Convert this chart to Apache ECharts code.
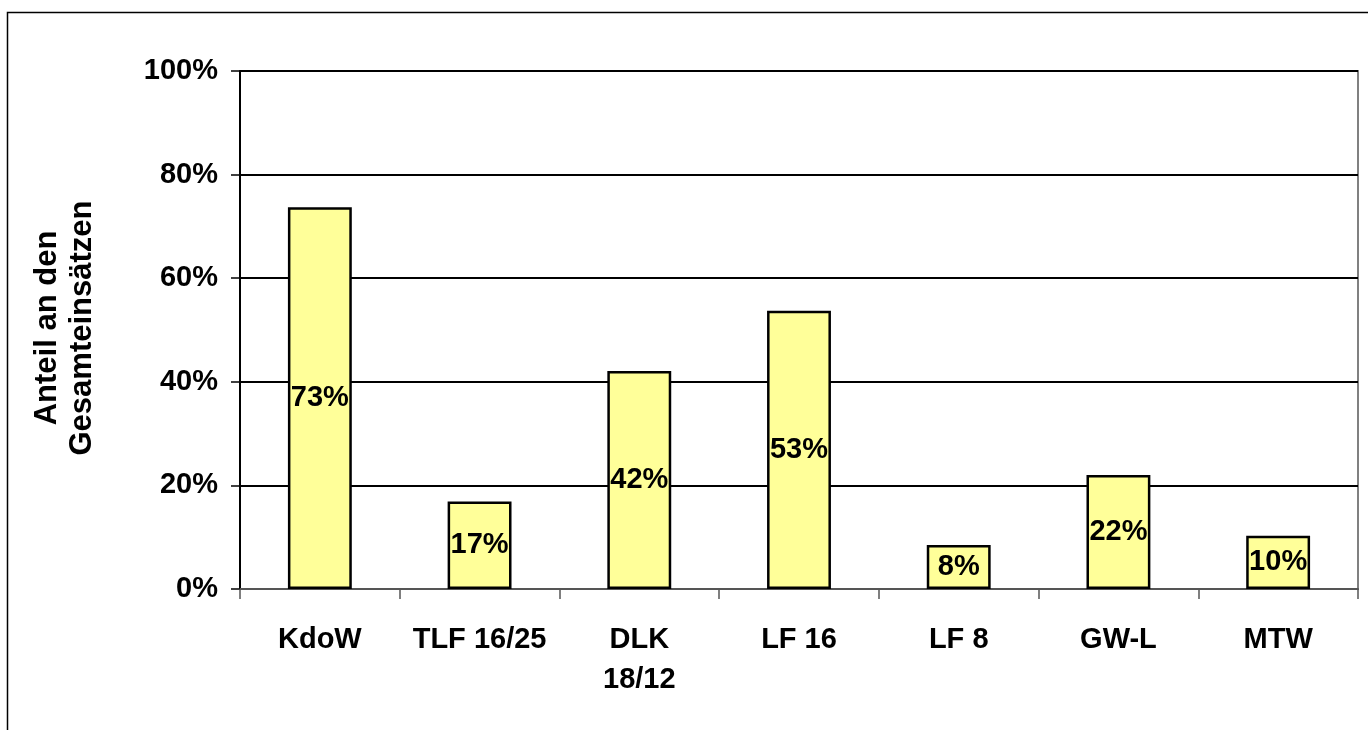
<!DOCTYPE html>
<html>
<head>
<meta charset="utf-8">
<script src="https://cdn.jsdelivr.net/npm/echarts@6/dist/echarts.min.js"></script>
<style>
html, body { margin: 0; padding: 0; background: #fff; }
#main { width: 1368px; height: 730px; }
</style>
</head>
<body>
<div id="main"></div>
<script>
// Kategorien und Werte (Anteil in %)
var categories = ['KdoW', 'TLF 16/25', 'DLK\n18/12', 'LF 16', 'LF 8', 'GW-L', 'MTW'];
var shares = [73.7, 16.9, 42.1, 53.7, 8.5, 22.0, 10.3];
var labels = ['73%', '17%', '42%', '53%', '8%', '22%', '10%'];
var yTicks = [0, 20, 40, 60, 80, 100];

var font = 'Liberation Sans, Arial, sans-serif';

var chartObj = echarts.init(document.getElementById('main'));

var chartOpt = {
    backgroundColor: '#fff',
    animation: false,
    graphic: [{
        type: 'rect',
        shape: { x: 7.5, y: 12.5, width: 1500, height: 900 },
        style: { fill: 'none', stroke: '#000', lineWidth: 1.5 },
        silent: true
    }, {
        type: 'text',
        x: 65, y: 328,
        rotation: Math.PI / 2,
        style: {
            text: 'Anteil an den\nGesamteinsätzen',
            font: 'bold 31px ' + font,
            fill: '#000',
            align: 'center',
            verticalAlign: 'middle',
            lineHeight: 35
        },
        silent: true
    }],
    grid: {
        left: 240, right: 10, top: 71, bottom: 141,
        show: true, borderColor: '#808080', borderWidth: 2,
        backgroundColor: 'transparent'
    },
    xAxis: {
        type: 'category',
        data: categories,
        axisLine: { lineStyle: { color: '#555', width: 2 } },
        axisTick: { show: true, length: 10, lineStyle: { color: '#555', width: 1.5 } },
        axisLabel: {
            color: '#000', fontFamily: font, fontWeight: 'bold', fontSize: 29,
            margin: 31, lineHeight: 40, interval: 0
        }
    },
    yAxis: {
        type: 'value',
        min: 0, max: 100, interval: 20,
        axisLine: { show: true, lineStyle: { color: '#000', width: 2 } },
        axisTick: { show: true, length: 9, lineStyle: { color: '#000', width: 1.5 } },
        splitLine: { lineStyle: { color: '#000', width: 2 } },
        axisLabel: {
            color: '#000', fontFamily: font, fontWeight: 'bold', fontSize: 29,
            margin: 22,
            formatter: function (v) { return yTicks.indexOf(v) >= 0 ? v + '%' : ''; }
        }
    },
    series: [{
        type: 'bar',
        data: shares,
        barWidth: '40%',
        itemStyle: { color: '#FFFF99', borderColor: '#000', borderWidth: 2.5 },
        label: {
            show: true, position: 'inside',
            color: '#000', fontFamily: font, fontWeight: 'bold', fontSize: 29,
            formatter: function (p) { return labels[p.dataIndex]; }
        }
    }]
};

chartObj.setOption(chartOpt);
</script>
</body>
</html>
